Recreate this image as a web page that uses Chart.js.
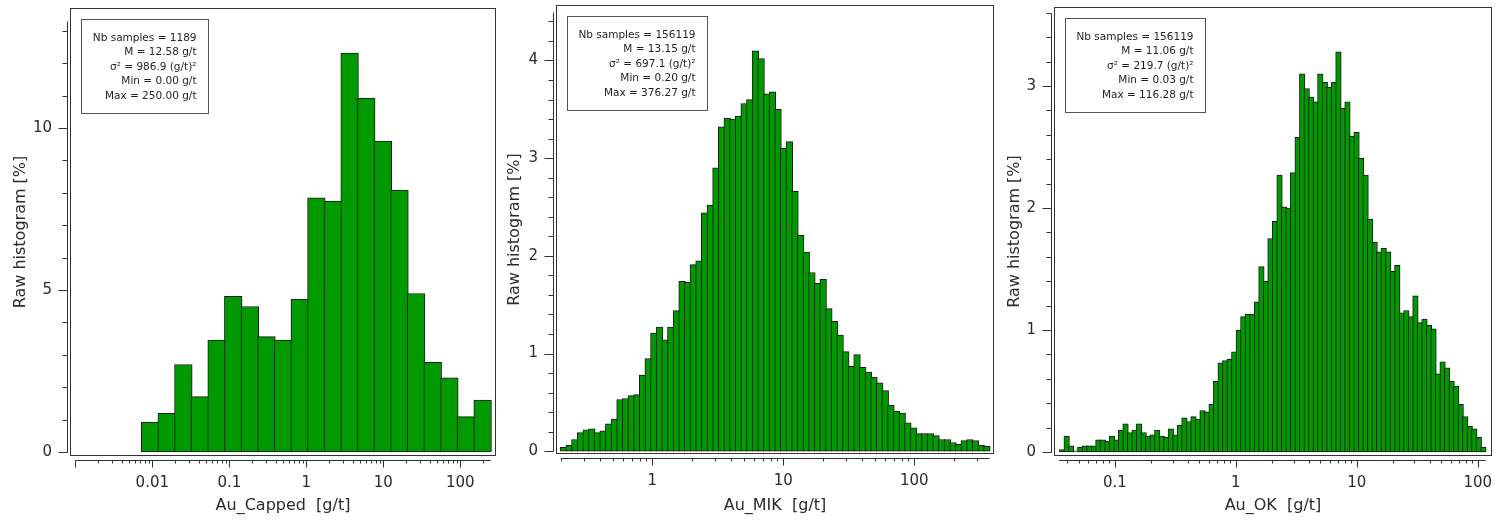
<!DOCTYPE html>
<html>
<head>
<meta charset="utf-8">
<script src="https://cdn.jsdelivr.net/npm/chart.js@4.4.1/dist/chart.umd.min.js"></script>
<style>
  html, body { margin: 0; padding: 0; background: #fff; }
  #wrap { display: flex; width: 1499px; height: 521px; }
</style>
</head>
<body>
<div id="wrap">
  <canvas id="c1" width="500" height="521"></canvas>
  <canvas id="c2" width="500" height="521"></canvas>
  <canvas id="c3" width="499" height="521"></canvas>
</div>
<script>
// Au_Capped : 21 log bins between 0.0073 and 250 g/t
const cappedBins = { lo: 0.0073, hi: 250, n: 21 };
const cappedPct = [0.92, 1.19, 2.70, 1.71, 3.45, 4.80, 4.49, 3.56, 3.45, 4.72, 7.84,
    7.74, 12.31, 10.92, 9.59, 8.08, 4.89, 2.77, 2.29, 1.09, 1.60];
const cappedStats = ['Nb samples = 1189', 'M = 12.58 g/t', 'σ² = 986.9 (g/t)²', 'Min = 0.00 g/t', 'Max = 250.00 g/t'];

// Au_MIK : 76 log bins between 0.20 and 376.27 g/t
const mikBins = { lo: 0.20, hi: 376.27, n: 76 };
const mikPct = [0.04, 0.06, 0.12, 0.19, 0.22, 0.23, 0.19, 0.21, 0.28, 0.33,
    0.53, 0.54, 0.57, 0.58, 0.78, 0.95, 1.21, 1.27, 1.14, 1.27,
    1.44, 1.74, 1.73, 1.91, 1.95, 2.44, 2.52, 2.90, 3.32, 3.41,
    3.40, 3.43, 3.56, 3.60, 4.10, 4.02, 3.66, 3.68, 3.50, 3.10,
    3.17, 2.66, 2.21, 2.04, 1.83, 1.72, 1.76, 1.46, 1.33, 1.19,
    1.02, 0.87, 0.99, 0.86, 0.81, 0.76, 0.70, 0.62, 0.47, 0.41,
    0.39, 0.29, 0.24, 0.18, 0.18, 0.18, 0.16, 0.12, 0.12, 0.09,
    0.07, 0.11, 0.12, 0.11, 0.06, 0.05];
const mikStats = ['Nb samples = 156119', 'M = 13.15 g/t', 'σ² = 697.1 (g/t)²', 'Min = 0.20 g/t', 'Max = 376.27 g/t'];

// Au_OK : 94 log bins between 0.035 and 116.28 g/t
const okBins = { lo: 0.035, hi: 116.28, n: 94 };
const okPct = [0.02, 0.13, 0.05, 0.01, 0.04, 0.05, 0.05, 0.05, 0.10, 0.10,
    0.09, 0.13, 0.10, 0.18, 0.23, 0.16, 0.18, 0.23, 0.16, 0.13,
    0.14, 0.18, 0.13, 0.12, 0.19, 0.14, 0.22, 0.28, 0.25, 0.29,
    0.27, 0.34, 0.33, 0.39, 0.58, 0.73, 0.75, 0.76, 0.82, 1.00,
    1.11, 1.13, 1.13, 1.23, 1.52, 1.40, 1.75, 1.89, 2.27, 2.01,
    2.00, 2.29, 2.58, 3.10, 2.98, 2.91, 2.87, 3.10, 3.03, 2.99,
    3.03, 3.28, 2.82, 2.87, 2.59, 2.62, 2.41, 2.27, 1.91, 1.72,
    1.64, 1.67, 1.64, 1.48, 1.53, 1.14, 1.16, 1.11, 1.28, 1.06,
    1.09, 1.04, 1.01, 0.64, 0.74, 0.69, 0.58, 0.54, 0.39, 0.29,
    0.21, 0.19, 0.12, 0.04];
const okStats = ['Nb samples = 156119', 'M = 11.06 g/t', 'σ² = 219.7 (g/t)²', 'Min = 0.03 g/t', 'Max = 116.28 g/t'];

const cappedXTicks = [0.01, 0.1, 1, 10, 100];
const mikXTicks = [1, 10, 100];
const okXTicks = [0.1, 1, 10, 100];
const cappedYTicks = [0, 5, 10];
const mikYTicks = [0, 1, 2, 3, 4];
const okYTicks = [0, 1, 2, 3];

const yTitle = 'Raw histogram [%]';
const FONT = '"DejaVu Sans", Verdana, sans-serif';
const TEXT = '#2b2b2b';
const LINE = '#333333';

Chart.defaults.font.family = FONT;
Chart.defaults.color = TEXT;

function binCenters(b) {
    const a = Math.log10(b.lo);
    const w = (Math.log10(b.hi) - a) / b.n;
    return Array.from({ length: b.n }, (_, i) => Math.pow(10, a + (i + 0.5) * w));
}

function tickLabel(v) {
    return v < 1 ? String(v) : v.toFixed(0);
}

// frame, offset axis lines with minor/major ticks, and the stats box
const histFrame = {
    id: 'histFrame',
    afterDatasetsDraw(chart, args, o) {
        const { ctx, chartArea: a, scales: { x, y } } = chart;
        const L = Math.round(a.left), T = Math.round(a.top);
        const R = Math.round(a.right), B = Math.round(a.bottom);
        ctx.save();
        ctx.strokeStyle = LINE;
        ctx.lineWidth = 1;
        ctx.strokeRect(L + 0.5, T + 0.5, R - L - 1, B - T - 1);

        // y axis
        const ax = L - 3 + 0.5;
        ctx.beginPath();
        ctx.moveTo(ax, Math.round(y.getPixelForValue(0)) + 0.5);
        ctx.lineTo(ax, Math.round(y.getPixelForValue(o.yTop)) + 0.5);
        for (let i = 0; i * o.yStep <= o.yTop + 1e-9; i++) {
            const v = i * o.yStep;
            const major = o.yMajor.some(m => Math.abs(m - v) < 1e-6);
            const py = Math.round(y.getPixelForValue(v)) + 0.5;
            ctx.moveTo(ax, py);
            ctx.lineTo(ax - (major ? 9 : 5), py);
        }
        ctx.stroke();

        // x axis
        const ay = B + 4 + 0.5;
        ctx.beginPath();
        ctx.moveTo(x.getPixelForValue(o.xLine[0]), ay);
        ctx.lineTo(x.getPixelForValue(o.xLine[1]), ay);
        const e0 = Math.floor(Math.log10(o.xLine[0]));
        const e1 = Math.ceil(Math.log10(o.xLine[1]));
        for (let e = e0; e <= e1; e++) {
            for (let k = 1; k <= 9; k++) {
                const v = k * Math.pow(10, e);
                if (v < o.xLine[0] * 0.999 || v > o.xLine[1]) continue;
                const px = Math.round(x.getPixelForValue(v)) + 0.5;
                ctx.moveTo(px, ay);
                ctx.lineTo(px, ay + (k === 1 ? 7 : 3));
            }
        }
        ctx.stroke();

        // stats box
        ctx.font = '10.5px ' + FONT;
        const tw = Math.max(...o.stats.map(t => ctx.measureText(t).width));
        const bx = L + 11.5, by = T + 11.5;
        const bw = Math.round(tw + 23), bh = 94;
        ctx.fillStyle = '#ffffff';
        ctx.fillRect(bx, by, bw, bh);
        ctx.strokeStyle = '#555555';
        ctx.strokeRect(bx, by, bw, bh);
        ctx.fillStyle = '#1e1e1e';
        ctx.textAlign = 'right';
        ctx.textBaseline = 'middle';
        o.stats.forEach((t, i) => ctx.fillText(t, bx + bw - 12, by + 18.5 + i * 14.5));
        ctx.restore();
    }
};

function makeHist(id, p) {
    const centers = binCenters(p.bins);
    return new Chart(document.getElementById(id), {
        type: 'bar',
        data: {
            datasets: [{
                data: p.values.map((v, i) => ({ x: centers[i], y: v })),
                backgroundColor: '#009900',
                borderColor: '#1a1a1a',
                borderWidth: 1,
                borderSkipped: false,
                barThickness: 'flex',
                categoryPercentage: 1,
                barPercentage: p.overlap
            }]
        },
        options: {
            responsive: false,
            animation: false,
            layout: { padding: { top: p.padTop, right: p.padRight, left: 0, bottom: 0 } },
            plugins: {
                legend: { display: false },
                tooltip: { enabled: false },
                histFrame: { stats: p.stats, xLine: p.xLine, yTop: p.yTop, yStep: p.yStep, yMajor: p.yTicks }
            },
            scales: {
                x: {
                    type: 'logarithmic',
                    offset: false,
                    min: p.xRange[0],
                    max: p.xRange[1],
                    grid: { display: false, drawTicks: false },
                    border: { display: false },
                    afterBuildTicks: s => { s.ticks = p.xTicks.map(v => ({ value: v, major: true })); },
                    afterFit: s => {
                        s.height = p.xAxisHeight;
                        s.paddingLeft = 0;
                        s.paddingRight = 0;
                    },
                    ticks: {
                        autoSkip: false, maxRotation: 0, padding: 18,
                        font: { size: 15 },
                        callback: (v, i) => tickLabel(p.xTicks[i])
                    },
                    title: {
                        display: true, text: p.xTitle, color: TEXT,
                        font: { size: 16 }, padding: { top: 0, bottom: 6 }
                    }
                },
                y: {
                    min: p.yRange[0],
                    max: p.yRange[1],
                    grid: { display: false, drawTicks: false },
                    border: { display: false },
                    afterBuildTicks: s => { s.ticks = p.yTicks.map(v => ({ value: v })); },
                    afterFit: s => {
                        s.width = p.yAxisWidth;
                        s.paddingTop = 0;
                        s.paddingBottom = 0;
                    },
                    ticks: { padding: 18, font: { size: 15 }, callback: v => String(v) },
                    title: {
                        display: true, text: yTitle, color: TEXT,
                        font: { size: 16 }, padding: { top: p.yTitlePad, bottom: 0 }
                    }
                }
            }
        },
        plugins: [histFrame]
    });
}

makeHist('c1', {
    bins: cappedBins, values: cappedPct, stats: cappedStats,
    xTicks: cappedXTicks, yTicks: cappedYTicks, xTitle: 'Au_Capped  [g/t]',
    xRange: [0.000853, 290.8], xLine: [0.001, 250],
    yRange: [-0.123, 13.70], yTop: 13.3, yStep: 1,
    padTop: 8, padRight: 4, yAxisWidth: 70, xAxisHeight: 65, yTitlePad: 11,
    overlap: 1.06
});

makeHist('c2', {
    bins: mikBins, values: mikPct, stats: mikStats,
    xTicks: mikXTicks, yTicks: mikYTicks, xTitle: 'Au_MIK  [g/t]',
    xRange: [0.184, 405.9], xLine: [0.20, 376.27],
    yRange: [-0.028, 4.568], yTop: 4.5, yStep: 0.2,
    padTop: 5, padRight: 6, yAxisWidth: 56, xAxisHeight: 67, yTitlePad: 5,
    overlap: 1.18
});

makeHist('c3', {
    bins: okBins, values: okPct, stats: okStats,
    xTicks: okXTicks, yTicks: okYTicks, xTitle: 'Au_OK  [g/t]',
    xRange: [0.0313, 131.3], xLine: [0.0345, 116.28],
    yRange: [-0.033, 3.648], yTop: 3.6, yStep: 0.2,
    padTop: 7, padRight: 7, yAxisWidth: 54, xAxisHeight: 65, yTitlePad: 5,
    overlap: 1.22
});
</script>
</body>
</html>
